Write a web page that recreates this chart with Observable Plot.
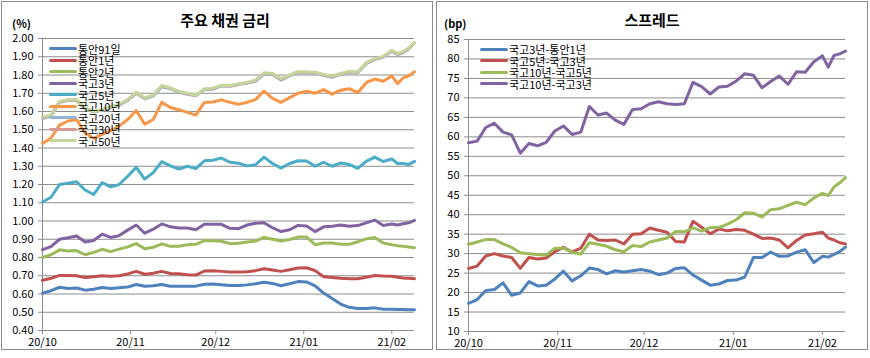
<!DOCTYPE html>
<html>
<head>
<meta charset="utf-8">
<script src="https://cdn.jsdelivr.net/npm/d3@7"></script>
<script src="https://cdn.jsdelivr.net/npm/@observablehq/plot@0.6"></script>
<style>
  html, body { margin: 0; padding: 0; background: #fff; }
  #page { position: relative; width: 870px; height: 358px; overflow: hidden; font-family: "Noto Sans CJK KR", sans-serif; }
  .frame { position: absolute; border: 1px solid #8c8c8c; box-sizing: border-box; }
  .chart { position: absolute; top: 0; }
  .title { position: absolute; font-weight: bold; font-size: 15px; line-height: 15px; text-align: center; }
  .unit { position: absolute; font-size: 11px; line-height: 11px; font-weight: bold; }
  .legend { position: absolute; font-size: 11px; line-height: 10px; }
  .legend .row { display: flex; align-items: center; height: 11.5px; white-space: nowrap; }
  .legend .row span { line-height: 10px; }
  .legend .sw { display: inline-block; width: 28px; height: 3px; border-radius: 1.5px; margin-right: 1px; }
</style>
</head>
<body>
<div id="page"></div>
<script>
// ---- data (days after 2020-10-01) ----
const dayOffsets = [0,3,6,9,12,15,18,21,24,27,30,33,36,39,42,45,48,51,54,57,60,63,66,69,72,75,78,81,84,87,90,93,96,99,102,105,108,111,114,117,120,123,125,127,129,131];
const monthTicks = ["2020-10-01","2020-11-01","2020-12-01","2021-01-01","2021-02-01"];

// 주요 채권 금리 (%)
const rateNames = ["통안91일","통안1년","통안2년","국고3년","국고5년","국고10년","국고20년","국고30년","국고50년"];
const msb91d = [0.605,0.618,0.637,0.630,0.633,0.621,0.626,0.636,0.630,0.634,0.638,0.652,0.642,0.645,0.652,0.643,0.642,0.642,0.643,0.653,0.655,0.651,0.647,0.647,0.650,0.656,0.664,0.658,0.645,0.656,0.668,0.666,0.645,0.605,0.575,0.545,0.527,0.520,0.521,0.524,0.516,0.517,0.515,0.515,0.514,0.514];
const msb1y = [0.675,0.686,0.702,0.702,0.700,0.690,0.695,0.700,0.697,0.700,0.710,0.724,0.708,0.714,0.724,0.712,0.711,0.706,0.704,0.726,0.728,0.724,0.720,0.720,0.722,0.728,0.738,0.731,0.724,0.733,0.742,0.744,0.728,0.695,0.690,0.686,0.684,0.684,0.692,0.701,0.698,0.697,0.692,0.688,0.686,0.684];
const msb2y = [0.800,0.815,0.842,0.836,0.838,0.815,0.828,0.845,0.832,0.846,0.858,0.876,0.848,0.856,0.875,0.861,0.862,0.870,0.872,0.893,0.892,0.889,0.876,0.878,0.885,0.890,0.910,0.900,0.890,0.898,0.912,0.912,0.870,0.879,0.879,0.873,0.872,0.886,0.902,0.910,0.880,0.870,0.865,0.861,0.858,0.854];
const ktb3y = [0.843,0.860,0.900,0.908,0.918,0.885,0.893,0.928,0.910,0.920,0.950,0.978,0.933,0.955,0.984,0.968,0.962,0.962,0.952,0.982,0.982,0.982,0.960,0.958,0.978,0.988,0.990,0.963,0.942,0.952,0.976,0.972,0.942,0.968,0.971,0.978,0.971,0.975,0.990,1.005,0.975,0.983,0.978,0.985,0.990,1.004];
const ktb5y = [1.104,1.130,1.200,1.207,1.215,1.170,1.145,1.210,1.187,1.200,1.245,1.294,1.230,1.265,1.325,1.302,1.285,1.300,1.287,1.330,1.333,1.345,1.322,1.317,1.302,1.308,1.350,1.315,1.290,1.315,1.330,1.329,1.300,1.322,1.300,1.318,1.310,1.288,1.327,1.350,1.326,1.340,1.315,1.315,1.310,1.327];
const ktb10y = [1.425,1.455,1.525,1.548,1.555,1.482,1.452,1.475,1.495,1.520,1.556,1.605,1.530,1.556,1.650,1.622,1.610,1.595,1.580,1.650,1.652,1.664,1.650,1.640,1.650,1.665,1.712,1.672,1.650,1.676,1.700,1.711,1.700,1.720,1.695,1.717,1.725,1.703,1.758,1.778,1.766,1.795,1.753,1.784,1.796,1.818];
const ktb20y = [1.562,1.575,1.650,1.660,1.660,1.615,1.597,1.607,1.620,1.635,1.660,1.700,1.670,1.684,1.735,1.725,1.705,1.695,1.686,1.720,1.722,1.740,1.738,1.748,1.755,1.765,1.805,1.803,1.772,1.795,1.812,1.812,1.810,1.797,1.787,1.803,1.816,1.812,1.862,1.884,1.898,1.930,1.912,1.922,1.943,1.975];
const ktb30y = [1.566,1.578,1.653,1.663,1.663,1.618,1.599,1.609,1.623,1.638,1.663,1.703,1.673,1.687,1.740,1.728,1.708,1.698,1.688,1.722,1.726,1.742,1.740,1.750,1.757,1.770,1.810,1.806,1.777,1.798,1.816,1.815,1.813,1.801,1.791,1.806,1.818,1.815,1.866,1.887,1.900,1.933,1.916,1.925,1.946,1.977];
const ktb50y = [1.570,1.580,1.655,1.665,1.665,1.620,1.600,1.610,1.625,1.640,1.665,1.705,1.675,1.689,1.742,1.730,1.710,1.700,1.690,1.724,1.728,1.744,1.742,1.751,1.759,1.772,1.812,1.808,1.780,1.800,1.818,1.817,1.815,1.803,1.794,1.808,1.820,1.817,1.868,1.889,1.902,1.935,1.918,1.927,1.948,1.978];
const rateTicks = [0.40,0.50,0.60,0.70,0.80,0.90,1.00,1.10,1.20,1.30,1.40,1.50,1.60,1.70,1.80,1.90,2.00];

// 스프레드 (bp)
const spreadNames = ["국고3년-통안1년","국고5년-국고3년","국고10년-국고5년","국고10년-국고3년"];
const sp3y1y = [17.2,18.2,20.5,20.8,22.5,19.3,19.9,22.8,21.7,21.9,23.5,25.5,23.0,24.3,26.3,25.9,24.8,25.6,25.3,25.6,25.9,25.5,24.6,25.0,26.2,26.4,24.5,23.2,21.9,22.2,23.1,23.2,24.0,29.0,29.0,30.4,29.3,29.4,30.4,31.0,27.7,29.3,29.1,29.8,30.5,31.7];
const sp5y3y = [26.2,26.8,29.4,30.0,29.4,29.0,26.2,29.0,28.6,28.9,30.5,31.6,30.4,31.4,35.0,33.5,33.4,33.5,32.5,35.0,35.1,36.6,36.0,35.5,33.1,33.0,38.3,36.8,35.1,36.3,35.9,36.2,36.0,35.0,33.9,34.0,33.5,31.5,33.4,34.8,35.1,35.5,34.0,33.5,32.8,32.5];
const sp10y5y = [32.4,33.0,33.6,33.6,32.5,31.6,30.2,30.0,29.8,29.6,31.4,31.4,30.3,29.9,32.8,32.4,31.9,31.0,30.5,32.1,31.8,33.0,33.5,34.0,35.7,35.6,36.6,35.8,36.7,36.7,37.6,38.7,40.5,40.4,39.4,41.3,41.5,42.4,43.2,42.6,44.3,45.5,44.9,47.1,48.2,49.5];
const sp10y3y = [58.5,58.9,62.4,63.5,61.2,60.5,55.8,58.3,57.7,58.6,61.5,62.8,60.6,61.2,67.8,65.6,66.1,64.3,63.2,67.0,67.2,68.5,69.0,68.5,68.3,68.5,74.0,72.9,71.0,72.8,73.0,74.3,76.2,75.8,72.6,74.2,75.6,73.5,76.7,76.6,79.3,80.8,77.9,80.9,81.3,82.0];
const spreadTicks = [10,15,20,25,30,35,40,45,50,55,60,65,70,75,80,85];

// ---- styles ----
const rateColors = ["#4F81BD","#C0504D","#9BBB59","#8064A2","#4BACC6","#F79646","#95B3D7","#D99694","#C3D69B"];
const spreadColors = ["#4F81BD","#C0504D","#9BBB59","#8064A2"];
const gridColor = "#8c8c8c";
const font = "'Noto Sans CJK KR', sans-serif";

// ---- build ----
const origin = new Date(Date.UTC(2020, 9, 1));
const dates = dayOffsets.map(d => d3.utcDay.offset(origin, d));
const xDomain = [dates[0], dates[dates.length - 1]];
const tickDates = monthTicks.map(s => new Date(s + "T00:00:00Z"));
const fmtMonth = d3.utcFormat("%y/%m");

function rows(names, arrays) {
  return names.flatMap((name, i) => arrays[i].map((v, j) => ({series: name, date: dates[j], value: v})));
}
const rateRows = rows(rateNames, [msb91d, msb1y, msb2y, ktb3y, ktb5y, ktb10y, ktb20y, ktb30y, ktb50y]);
const spreadRows = rows(spreadNames, [sp3y1y, sp5y3y, sp10y5y, sp10y3y]);

function panel({data, names, colors, yDomain, yTicks, yFormat, margins}) {
  return Plot.plot({
    width: 435, height: 358,
    marginLeft: margins[0], marginRight: margins[1], marginTop: margins[2], marginBottom: margins[3],
    style: {fontFamily: font, fontSize: "11px", color: "#000", background: "transparent", overflow: "visible"},
    x: {type: "utc", domain: xDomain, label: null},
    y: {domain: yDomain, label: null},
    color: {domain: names, range: colors},
    marks: [
      Plot.gridY(yTicks, {stroke: gridColor, strokeOpacity: 1, strokeWidth: 1}),
      Plot.axisY(yTicks, {tickSize: 4, tickPadding: 5, tickFormat: yFormat, stroke: gridColor, fill: "#000", label: null}),
      Plot.axisX(tickDates, {tickSize: 4, tickPadding: 4, tickFormat: fmtMonth, stroke: gridColor, fill: "#000", label: null}),
      Plot.ruleX(xDomain.slice(0, 1), {stroke: gridColor}),
      Plot.ruleY(yDomain.slice(0, 1), {stroke: gridColor}),
      Plot.line(data, {x: "date", y: "value", z: "series", stroke: "series", strokeWidth: 3, strokeLinejoin: "round", strokeLinecap: "round"})
    ]
  });
}

const page = document.getElementById("page");
function add(el, css) { Object.assign(el.style, css); page.appendChild(el); return el; }
function div(cls, text, css) { const e = document.createElement("div"); e.className = cls; if (text) e.textContent = text; return add(e, css); }

div("frame", null, {left: "1px", top: "1px", width: "432px", height: "349px"});
div("frame", null, {left: "436px", top: "1px", width: "432px", height: "349px"});

const leftChart = panel({data: rateRows, names: rateNames, colors: rateColors, yDomain: [0.4, 2.0], yTicks: rateTicks, yFormat: d3.format(".2f"), margins: [42, 21, 38, 28]});
leftChart.classList.add("chart"); add(leftChart, {left: "0px"});
const rightChart = panel({data: spreadRows, names: spreadNames, colors: spreadColors, yDomain: [10, 85], yTicks: spreadTicks, yFormat: d3.format("d"), margins: [33, 25, 39, 27]});
rightChart.classList.add("chart"); add(rightChart, {left: "435px"});

div("title", "주요 채권 금리", {left: "125px", width: "200px", top: "12px"});
div("title", "스프레드", {left: "552px", width: "200px", top: "12px"});
div("unit", "(%)", {left: "12px", top: "18px"});
div("unit", "(bp)", {left: "444px", top: "18px"});

function legend(names, colors, css) {
  const lg = div("legend", null, css);
  names.forEach((n, i) => {
    const r = document.createElement("div"); r.className = "row";
    const sw = document.createElement("span"); sw.className = "sw"; sw.style.background = colors[i];
    const t = document.createElement("span"); t.textContent = n;
    r.appendChild(sw); r.appendChild(t); lg.appendChild(r);
  });
}
legend(rateNames, rateColors, {left: "49px", top: "43px"});
legend(spreadNames, spreadColors, {left: "480px", top: "43.5px"});
</script>
</body>
</html>
